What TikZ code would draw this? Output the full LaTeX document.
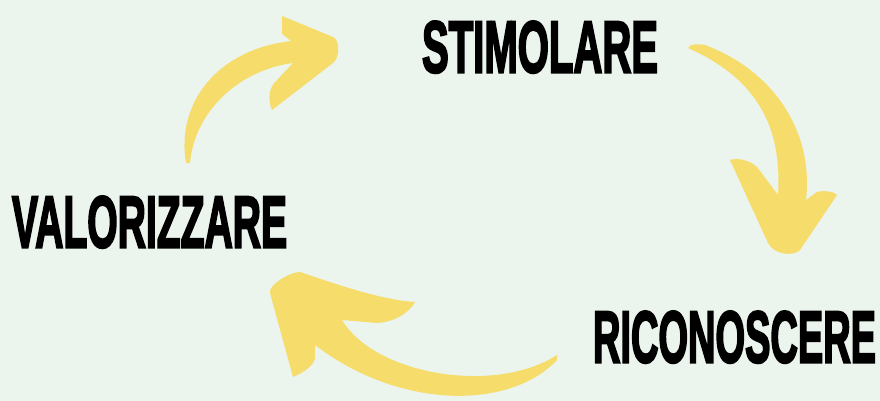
\documentclass[tikz,border=0pt]{standalone}
\usepackage{fontspec}
\usepackage{graphicx}
\newfontfamily\heavy{Liberation Sans Bold}[FakeBold=3.5]
\definecolor{bgc}{HTML}{EBF5EE}
\definecolor{arr}{HTML}{F6DC6B}
\tikzset{
  label/.style={inner sep=0pt, outer sep=0pt, anchor=south west, font=\heavy},
  arrowshape/.style={fill=arr, draw=none}
}
\newcommand{\lbl}[3]{\resizebox{#1pt}{#2pt}{#3}}
\begin{document}
\begin{tikzpicture}[x=1pt,y=-1pt]
\fill[bgc] (0,0) rectangle (880,401);
\useasboundingbox (0,0) rectangle (880,401);
% arrow top-left
\fill[arrowshape] (186,163) .. controls (176,105) and (215,50) .. (291,41)
  -- (282,34) -- (282,16) -- (333,37)
  .. controls (340,40) and (340,58) .. (333,63)
  -- (272,110) .. controls (268,100) and (268,88) .. (277,80) -- (293,63)
  .. controls (240,70) and (195,110) .. (190,163) -- cycle;
% arrow right
\fill[arrowshape] (688,48) .. controls (690,43) and (700,44) .. (705,45)
  .. controls (772,70) and (814,130) .. (806,200)
  -- (817,192) .. controls (825,190) and (835,192) .. (837,195)
  -- (800,250) .. controls (795,256) and (775,256) .. (768,243)
  -- (730,160) .. controls (740,157) and (752,162) .. (757,167) -- (778,195)
  .. controls (782,130) and (760,80) .. (688,48) -- cycle;
% arrow bottom
\fill[arrowshape] (557,360) .. controls (510,410) and (400,410) .. (315,345)
  -- (315,358) .. controls (314,365) and (305,372) .. (293,377)
  -- (270,293) .. controls (268,285) and (290,272) .. (300,272)
  .. controls (330,282) and (380,300) .. (415,302)
  .. controls (410,312) and (395,322) .. (377,323) -- (342,320)
  .. controls (375,375) and (495,395) .. (557,355) -- cycle;
% labels
\node[label] (stim) at (422,73) {\lbl{236}{51}{STIMOLARE}};
\node[label] (valo) at (12,248) {\lbl{275}{51}{VALORIZZARE}};
\node[label] (rico) at (593,363) {\lbl{283}{51}{RICONOSCERE}};
\end{tikzpicture}
\end{document}
